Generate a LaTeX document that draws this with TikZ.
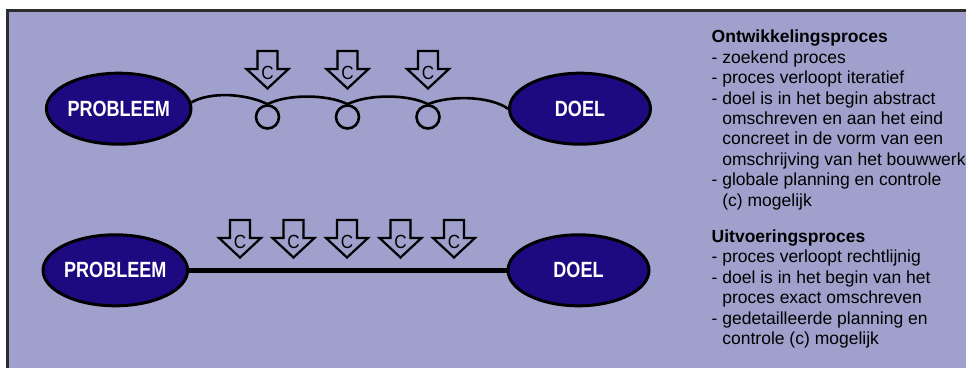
\documentclass[tikz,border=0pt]{standalone}
\usepackage{fontspec}
\setmainfont{Liberation Sans}
\usepackage{graphicx}
\usetikzlibrary{shapes.geometric}
\definecolor{bgfill}{RGB}{160,160,205}
\definecolor{navy}{RGB}{30,10,128}
\definecolor{framecol}{RGB}{45,45,45}
\tikzset{
  goal/.style={ellipse, draw=black, line width=3pt, fill=navy, minimum width=141pt, minimum height=71pt, inner sep=0pt, text=white, font=\fontsize{22}{22}\selectfont\bfseries},
  loopring/.style={circle, draw=black, line width=2.6pt, minimum size=23pt, inner sep=0pt},
  ctrlarrow/.style={draw=black, line width=2.2pt, line join=miter, fill=bgfill},
  clabel/.style={font=\fontsize{19}{19}\selectfont, inner sep=0pt},
  desc/.style={align=left, anchor=north west, inner sep=0pt, font=\fontsize{17.5}{20.4}\selectfont},
  ctrl/.pic={
    \draw[ctrlarrow] (-10,1) -- (10,1) -- (10,19) -- (21,19) -- (0,38.5) -- (-21,19) -- (-10,19) -- cycle;
    \node[clabel] (-c) at (0,22.5) {\scalebox{0.9}[1]{C}};
  }
}
\newcommand{\squeeze}[1]{\scalebox{0.82}[1]{#1}}
\begin{document}
\begin{tikzpicture}[x=1pt,y=-1pt]
\useasboundingbox (0,0) rectangle (966,367);
\clip (0,0) rectangle (966,367);
\fill[white] (0,0) rectangle (966,367);
\draw[framecol, line width=3pt, fill=bgfill] (7.5,10.5) rectangle (990,390);

% top row: development process
\node[goal] (p1) at (118.7,108.7) {\squeeze{PROBLEEM}};
\node[goal] (d1) at (580,108.7) {\squeeze{DOEL}};
\node[loopring] (r1) at (267.5,117) {};
\node[loopring] (r2) at (347.5,117) {};
\node[loopring] (r3) at (428,117) {};
\draw[line width=2.6pt] (p1.5) .. controls (212,91) and (247,94) .. (r1.north)
  .. controls (287,94) and (327,94) .. (r2.north)
  .. controls (368,94) and (408,94) .. (r3.north)
  .. controls (450,95) and (490,96) .. (d1.west);
\pic (a1) at (267.5,50) {ctrl};
\pic (a2) at (347.5,50) {ctrl};
\pic (a3) at (428,50) {ctrl};

% bottom row: execution process
\node[goal] (p2) at (115.3,270.3) {\squeeze{PROBLEEM}};
\node[goal] (d2) at (578.5,270.3) {\squeeze{DOEL}};
\draw[line width=5pt] (p2) -- (d2);
\pic (b1) at (240,219) {ctrl};
\pic (b2) at (293.5,219) {ctrl};
\pic (b3) at (347,219) {ctrl};
\pic (b4) at (400.5,219) {ctrl};
\pic (b5) at (454,219) {ctrl};

% descriptions
\node[desc] (t1) at (711.5,30) {\textbf{Ontwikkelingsproces}\\
- zoekend proces\\
- proces verloopt iteratief\\
- doel is in het begin abstract\\
\hphantom{- }omschreven en aan het eind\\
\hphantom{- }concreet in de vorm van een\\
\hphantom{- }omschrijving van het bouwwerk\\
- globale planning en controle\\
\hphantom{- }(c) mogelijk};
\node[desc] (t2) at (711.5,229.6) {\textbf{Uitvoeringsproces}\\
- proces verloopt rechtlijnig\\
- doel is in het begin van het\\
\hphantom{- }proces exact omschreven\\
- gedetailleerde planning en\\
\hphantom{- }controle (c) mogelijk};
\end{tikzpicture}
\end{document}
